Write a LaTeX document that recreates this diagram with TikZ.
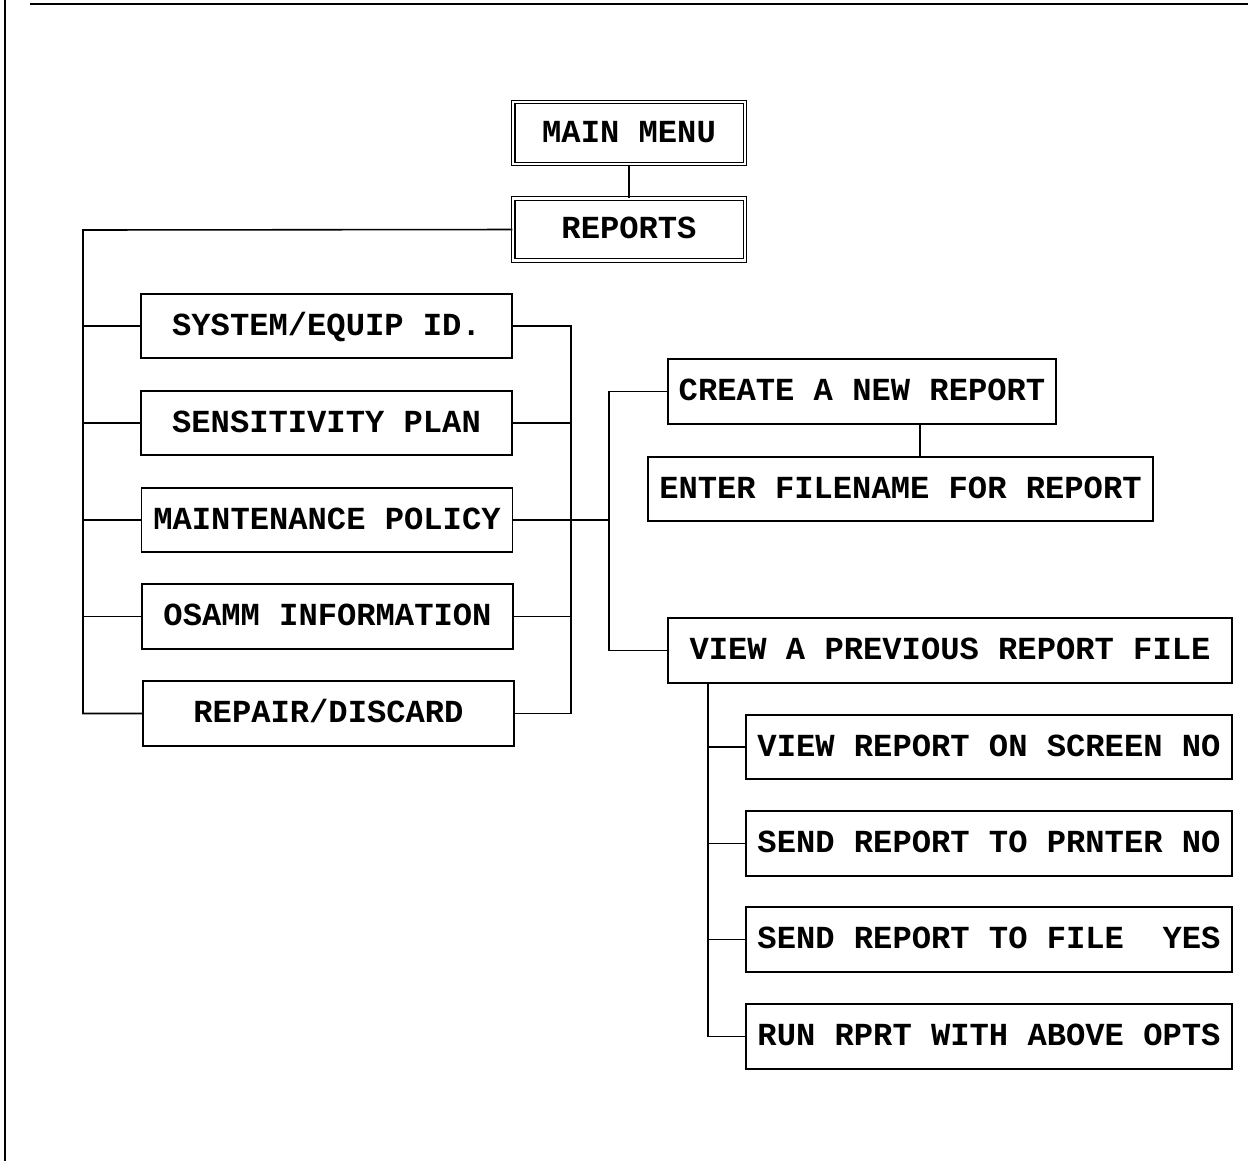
\documentclass[tikz,border=0pt]{standalone}
\usepackage{fontspec}
\setmonofont{Liberation Mono}

\begin{document}
\begin{tikzpicture}[x=0.02cm, y=-0.02cm, line width=0.9pt,
    menubox/.style={draw, double, double distance=0.05cm, line width=0.7pt, inner sep=0pt,
        minimum width=4.64cm, minimum height=1.24cm,
        font=\ttfamily\bfseries\fontsize{18.3pt}{20pt}\selectfont, text height=10.4pt, text depth=0pt},
    optbox/.style={draw, inner sep=0pt, minimum height=1.29cm,
        font=\ttfamily\bfseries\fontsize{18.3pt}{20pt}\selectfont, text height=10.4pt, text depth=0pt}]

    \useasboundingbox (0, 0) rectangle (1248, 1161);

    % page frame
    \draw (30, 4) -- (1248, 4);
    \draw (5, 0) -- (5, 1161);

    % menus
    \node [menubox] (main) at (629, 133) {MAIN MENU};
    \node [menubox] (reports) at (629, 229.5) {REPORTS};
    \draw (main) -- (reports);

    % report types
    \node [optbox, minimum width=7.42cm] (sysid) at (326.5, 326) {SYSTEM/EQUIP ID.};
    \node [optbox, minimum width=7.42cm] (sens) at (326.5, 423) {SENSITIVITY PLAN};
    \node [optbox, minimum width=7.42cm] (maint) at (327, 520) {MAINTENANCE POLICY};
    \node [optbox, minimum width=7.42cm] (osamm) at (327.5, 616.5) {OSAMM INFORMATION};
    \node [optbox, minimum width=7.42cm] (repair) at (328.5, 713.5) {REPAIR/DISCARD};

    \coordinate (ltop) at (83, 230);
    \draw (reports.west) -- (ltop) |- (repair.west);
    \foreach \n in {sysid, sens, maint, osamm}
        \draw (ltop |- \n.west) -- (\n.west);

    \coordinate (rtop) at (571, 326);
    \draw (sysid.east) -- (rtop) |- (repair.east);
    \foreach \n in {sens, maint, osamm}
        \draw (\n.east) -- (rtop |- \n.east);

    % create / view
    \node [optbox, minimum width=7.76cm] (create) at (862, 391.5) {CREATE A NEW REPORT};
    \node [optbox, minimum width=10.1cm] (enter) at (900.5, 489) {ENTER FILENAME FOR REPORT};
    \node [optbox, minimum width=11.28cm] (viewprev) at (950, 650.5) {VIEW A PREVIOUS REPORT FILE};

    \coordinate (split) at (609, 520);
    \draw (rtop |- maint.east) -- (split);
    \draw (create.west) -| (split) |- (viewprev.west);

    \coordinate (drop) at (920, 489);
    \draw (drop |- create.south) -- (drop |- enter.north);

    % output options
    \node [optbox, minimum width=9.72cm] (onscreen) at (989, 747) {VIEW REPORT ON SCREEN NO};
    \node [optbox, minimum width=9.72cm] (toprinter) at (989, 843.5) {SEND REPORT TO PRNTER NO};
    \node [optbox, minimum width=9.72cm] (tofile) at (989, 939.5) {SEND REPORT TO FILE~~YES};
    \node [optbox, minimum width=9.72cm] (runopts) at (989, 1036.5) {RUN RPRT WITH ABOVE OPTS};

    \coordinate (vtop) at (708, 683);
    \draw (vtop |- viewprev.south) |- (runopts.west);
    \foreach \n in {onscreen, toprinter, tofile}
        \draw (vtop |- \n.west) -- (\n.west);

\end{tikzpicture}
\end{document}
